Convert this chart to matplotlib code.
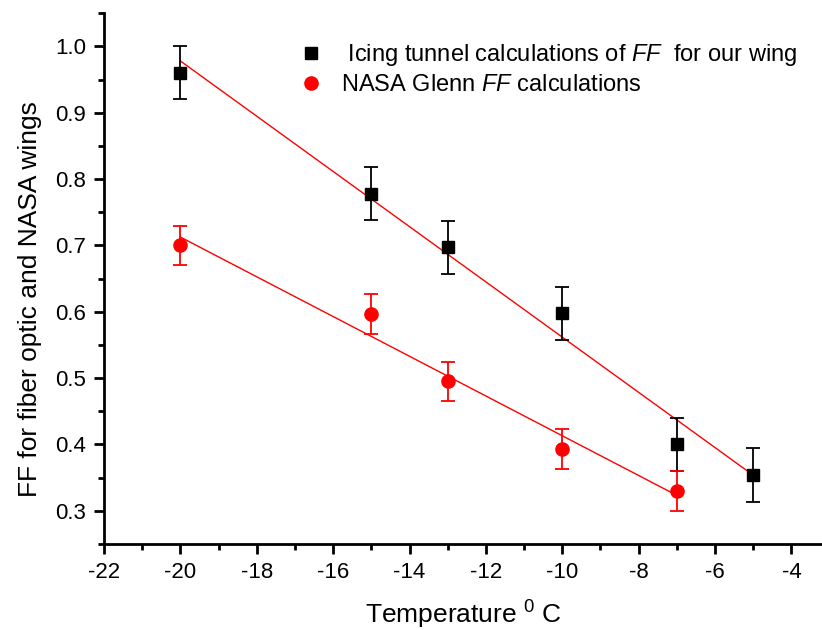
import numpy as np
import matplotlib
matplotlib.use('Agg')
import matplotlib.pyplot as plt
from matplotlib.ticker import MultipleLocator, FormatStrFormatter

plt.rcParams['font.family'] = ['Liberation Sans', 'DejaVu Sans']
plt.rcParams['mathtext.fontset'] = 'custom'
plt.rcParams['mathtext.rm'] = 'Liberation Sans'
plt.rcParams['mathtext.it'] = 'Liberation Sans:italic'
plt.rcParams['axes.unicode_minus'] = False

# data
temp_ours = [-20, -15, -13, -10, -7, -5]
ff_ours = [0.960, 0.778, 0.697, 0.598, 0.400, 0.354]
err_ours = [0.04, 0.04, 0.04, 0.04, 0.04, 0.04]

temp_nasa = [-20, -15, -13, -10, -7]
ff_nasa = [0.700, 0.597, 0.495, 0.393, 0.330]
err_nasa = [0.03, 0.03, 0.03, 0.03, 0.03]

label_ours = ' Icing tunnel calculations of $\\mathit{FF}$  for our wing'
label_nasa = 'NASA Glenn $\\mathit{FF}$ calculations'

fig = plt.figure(figsize=(8.22, 6.3), dpi=100)
ax = fig.add_axes([0.1265, 0.1365, 0.8735, 0.8425])

# linear fits
for xs, ys in [(temp_ours, ff_ours), (temp_nasa, ff_nasa)]:
    k, b = np.polyfit(xs, ys, 1)
    xx = np.array([min(xs), max(xs)])
    ax.plot(xx, k * xx + b, color='red', lw=1.0, zorder=2)

eb1 = ax.errorbar(temp_ours, ff_ours, yerr=err_ours, fmt='s', color='black', ms=9,
                  ecolor='black', elinewidth=1.3, capsize=5, capthick=1.3, zorder=3)
eb2 = ax.errorbar(temp_nasa, ff_nasa, yerr=err_nasa, fmt='o', color='red', ms=9.5,
                  ecolor='red', elinewidth=1.3, capsize=5, capthick=1.3, zorder=3)

ax.set_xlim(-22, -3.2)
ax.set_ylim(0.25, 1.05)
ax.xaxis.set_major_locator(MultipleLocator(2))
ax.xaxis.set_minor_locator(MultipleLocator(1))
ax.set_yticks([0.3, 0.4, 0.5, 0.6, 0.7, 0.8, 0.9, 1.0])
ax.yaxis.set_minor_locator(MultipleLocator(0.05))
ax.yaxis.set_major_formatter(FormatStrFormatter('%.1f'))

for s in ['top', 'right']:
    ax.spines[s].set_visible(False)
for s in ['left', 'bottom']:
    ax.spines[s].set_linewidth(2)
ax.tick_params(which='major', direction='out', length=7, width=2, labelsize=16, pad=6)
ax.tick_params(which='minor', direction='out', length=4, width=2)

ax.set_xlabel('Temperature $^{0}$ C', fontsize=19, labelpad=11)
ax.set_ylabel('FF for fiber optic and NASA wings', fontsize=19)
ax.yaxis.set_label_coords(-0.086, 0.461)

ax.legend([eb1[0], eb2[0]], [label_ours, label_nasa],
          loc='upper left', bbox_to_anchor=(0.245, 0.985), frameon=False,
          fontsize=17, handlelength=0.8, handletextpad=0.9, labelspacing=0.25)

fig.savefig('out.png', dpi=100, facecolor='white')
